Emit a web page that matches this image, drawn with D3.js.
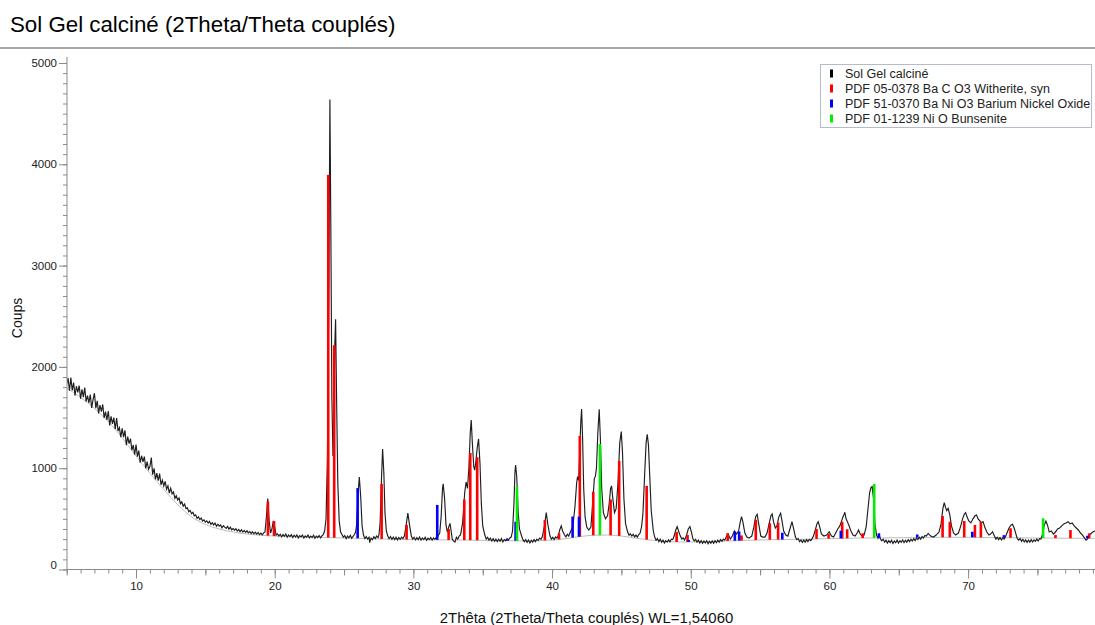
<!DOCTYPE html>
<html><head><meta charset="utf-8">
<script src="https://cdn.jsdelivr.net/npm/d3@7"></script>
<style>
html,body{margin:0;padding:0;background:#fff;}
svg{display:block;font-family:"Liberation Sans",Arial,sans-serif;}
</style></head>
<body><svg id="chart" width="1095" height="625"></svg>
<script>
const title = "Sol Gel calciné (2Theta/Theta couplés)";
const xTitle = "2Thêta (2Theta/Theta couplés) WL=1,54060";
const yTitle = "Coups";
const xTickLabels = [10, 20, 30, 40, 50, 60, 70];
const yTickLabels = [0, 1000, 2000, 3000, 4000, 5000];
const seriesNames = ["Sol Gel calciné", "PDF 05-0378 Ba C O3 Witherite, syn", "PDF 51-0370 Ba Ni O3 Barium Nickel Oxide", "PDF 01-1239 Ni O Bunsenite"];
const seriesColors = ["#000000", "#ff0000", "#0000ff", "#00ee00"];

// measured scan: [2theta, counts]
const scan = [
[5.0,1830],[5.1,1891],[5.2,1765],[5.3,1894],[5.4,1768],[5.5,1846],[5.6,1717],[5.7,1809],[5.8,1748],[5.9,1815],
[6.0,1685],[6.1,1779],[6.2,1701],[6.3,1795],[6.4,1658],[6.5,1717],[6.6,1645],[6.7,1727],[6.8,1596],[6.9,1678],
[7.0,1740],[7.1,1593],[7.2,1665],[7.3,1541],[7.4,1622],[7.5,1558],[7.6,1629],[7.7,1496],[7.8,1559],[7.9,1476],
[8.0,1565],[8.1,1423],[8.2,1511],[8.3,1437],[8.4,1500],[8.5,1384],[8.6,1495],[8.7,1367],[8.8,1401],[8.9,1307],
[9.0,1393],[9.1,1306],[9.2,1374],[9.3,1228],[9.4,1312],[9.5,1243],[9.6,1292],[9.7,1179],[9.8,1229],[9.9,1133],
[10.0,1233],[10.1,1114],[10.2,1174],[10.3,1054],[10.4,1123],[10.5,1063],[10.6,1115],[10.7,997],[10.8,1066],[10.9,990],
[11.0,1017],[11.1,1105],[11.2,936],[11.3,998],[11.4,889],[11.5,951],[11.6,876],[11.7,946],[11.8,837],[11.9,882],
[12.0,824],[12.1,870],[12.2,792],[12.3,826],[12.4,755],[12.5,803],[12.6,746],[12.7,766],[12.8,702],[12.9,729],
[13.0,686],[13.1,706],[13.2,649],[13.3,669],[13.4,626],[13.5,646],[13.6,602],[13.7,609],[13.8,571],[13.9,583],
[14.0,550],[14.1,565],[14.2,530],[14.3,540],[14.4,505],[14.5,520],[14.6,493],[14.7,508],[14.8,479],[14.9,490],
[15.0,467],[15.1,480],[15.2,458],[15.3,476],[15.4,445],[15.5,462],[15.6,440],[15.7,458],[15.8,426],[15.9,447],
[16.0,428],[16.1,440],[16.2,412],[16.3,432],[16.4,418],[16.5,406],[16.6,425],[16.7,398],[16.8,418],[16.9,392],
[17.0,405],[17.1,388],[17.2,402],[17.3,380],[17.4,396],[17.5,374],[17.6,392],[17.7,370],[17.8,386],[17.9,366],
[18.0,382],[18.1,362],[18.2,375],[18.3,356],[18.4,373],[18.5,352],[18.6,368],[18.7,350],[18.8,366],[18.9,345],
[19.0,360],[19.1,342],[19.2,362],[19.3,370],[19.4,520],[19.5,700],[19.6,480],[19.7,360],[19.8,400],[19.9,480],
[20.0,420],[20.1,340],[20.2,352],[20.3,330],[20.4,348],[20.5,322],[20.6,345],[20.7,328],[20.8,350],[20.9,318],
[21.0,340],[21.1,325],[21.2,345],[21.3,315],[21.4,338],[21.5,320],[21.6,342],[21.7,312],[21.8,335],[21.9,322],
[22.0,340],[22.1,310],[22.2,332],[22.3,318],[22.4,340],[22.5,312],[22.6,330],[22.7,315],[22.8,338],[22.9,308],
[23.0,330],[23.1,316],[23.2,335],[23.3,312],[23.4,332],[23.5,345],[23.6,380],[23.7,500],[23.8,1100],[23.9,2700],
[23.98,4640],[24.05,3300],[24.12,1700],[24.2,1120],[24.27,1600],[24.33,2200],[24.39,2470],[24.46,1700],[24.55,850],[24.65,480],
[24.75,370],[24.85,345],[24.95,318],[25.05,335],[25.15,305],[25.25,330],[25.35,312],[25.45,338],[25.55,308],[25.65,328],
[25.75,345],[25.82,365],[25.9,430],[26.0,720],[26.1,913],[26.2,720],[26.3,430],[26.4,340],[26.5,305],[26.6,325],
[26.7,300],[26.8,318],[26.85,265],[26.95,310],[27.05,295],[27.15,325],[27.25,305],[27.35,330],[27.45,315],[27.52,345],
[27.6,460],[27.7,900],[27.78,1190],[27.87,950],[27.95,560],[28.05,380],[28.15,330],[28.25,305],[28.35,325],[28.45,298],
[28.55,320],[28.65,295],[28.75,318],[28.85,290],[28.95,315],[29.05,298],[29.15,320],[29.25,305],[29.35,330],[29.48,440],
[29.6,558],[29.72,440],[29.85,330],[29.95,300],[30.05,318],[30.15,292],[30.25,315],[30.35,295],[30.45,320],[30.55,290],
[30.65,312],[30.75,296],[30.85,318],[30.95,288],[31.05,310],[31.15,295],[31.25,315],[31.35,290],[31.45,312],[31.55,298],
[31.65,318],[31.75,325],[31.9,360],[32.0,520],[32.1,800],[32.15,845],[32.25,700],[32.35,440],[32.45,370],[32.55,420],
[32.64,455],[32.72,380],[32.8,300],[32.9,280],[33.0,270],[33.1,318],[33.2,300],[33.3,330],[33.4,342],[33.55,460],
[33.7,760],[33.8,864],[33.9,800],[34.0,1000],[34.1,1350],[34.17,1476],[34.25,1250],[34.35,1020],[34.42,980],[34.5,1060],
[34.6,1200],[34.7,1289],[34.8,1050],[34.9,650],[35.0,430],[35.15,340],[35.25,300],[35.35,318],[35.45,290],[35.55,310],
[35.65,282],[35.75,305],[35.85,278],[35.95,300],[36.05,275],[36.15,298],[36.25,280],[36.35,305],[36.45,272],[36.55,296],
[36.65,285],[36.75,305],[36.85,290],[36.95,312],[37.05,320],[37.15,380],[37.25,650],[37.32,950],[37.37,1032],[37.45,920],
[37.55,580],[37.65,400],[37.8,330],[37.9,295],[38.0,275],[38.1,295],[38.2,268],[38.3,292],[38.4,262],[38.5,288],
[38.6,270],[38.7,295],[38.8,275],[38.9,300],[39.0,285],[39.1,310],[39.2,298],[39.3,325],[39.45,430],[39.58,561],
[39.7,440],[39.85,330],[39.95,300],[40.05,318],[40.15,295],[40.25,322],[40.35,310],[40.45,335],[40.55,390],[40.66,430],
[40.76,380],[40.9,340],[41.0,322],[41.1,348],[41.2,330],[41.3,362],[41.5,430],[41.65,620],[41.77,850],[41.84,917],
[41.92,880],[42.0,1200],[42.07,1450],[42.13,1585],[42.2,1300],[42.28,800],[42.38,520],[42.5,420],[42.65,390],[42.8,420],
[42.95,700],[43.05,900],[43.12,917],[43.2,1000],[43.3,1350],[43.4,1582],[43.48,1300],[43.58,800],[43.7,560],[43.85,500],
[44.0,530],[44.12,650],[44.22,800],[44.29,825],[44.38,700],[44.5,560],[44.62,600],[44.75,850],[44.88,1250],[44.99,1361],
[45.08,1150],[45.18,700],[45.3,450],[45.45,370],[45.55,338],[45.65,352],[45.75,330],[45.85,348],[45.95,322],[46.05,340],
[46.15,320],[46.25,345],[46.35,360],[46.45,420],[46.55,550],[46.68,950],[46.78,1250],[46.86,1335],[46.95,1230],[47.05,900],
[47.15,580],[47.3,380],[47.4,320],[47.5,290],[47.6,305],[47.7,275],[47.8,298],[47.9,268],[48.0,290],[48.1,262],
[48.2,285],[48.3,270],[48.4,292],[48.5,272],[48.6,300],[48.7,295],[48.8,330],[48.92,390],[49.02,423],[49.12,380],
[49.25,330],[49.35,300],[49.45,312],[49.55,290],[49.65,320],[49.72,350],[49.82,400],[49.94,423],[50.05,370],[50.15,305],
[50.25,282],[50.35,298],[50.45,270],[50.55,290],[50.65,262],[50.75,285],[50.85,258],[50.95,280],[51.05,262],[51.15,285],
[51.25,255],[51.35,278],[51.45,260],[51.55,282],[51.65,258],[51.75,285],[51.85,265],[51.95,290],[52.05,270],[52.15,295],
[52.25,278],[52.35,300],[52.45,290],[52.55,320],[52.7,350],[52.85,300],[53.0,330],[53.15,380],[53.3,350],[53.45,380],
[53.57,470],[53.66,521],[53.76,470],[53.9,360],[54.05,320],[54.2,310],[54.4,330],[54.55,420],[54.68,520],[54.79,545],
[54.9,450],[55.05,330],[55.2,320],[55.35,320],[55.5,360],[55.65,450],[55.78,530],[55.87,548],[55.97,470],[56.1,410],
[56.22,430],[56.35,520],[56.48,555],[56.58,480],[56.7,380],[56.85,340],[57.0,330],[57.15,400],[57.3,472],[57.42,400],
[57.55,320],[57.65,295],[57.75,305],[57.85,275],[57.95,292],[58.05,268],[58.15,290],[58.25,270],[58.35,295],[58.45,275],
[58.55,298],[58.65,285],[58.75,305],[58.85,330],[59.0,400],[59.1,450],[59.19,472],[59.3,420],[59.42,350],[59.6,330],
[59.8,340],[59.98,373],[60.15,330],[60.3,320],[60.45,360],[60.6,400],[60.75,430],[60.88,480],[60.98,520],[61.05,540],
[61.11,565],[61.2,500],[61.3,470],[61.42,430],[61.55,380],[61.7,340],[61.85,330],[62.0,360],[62.1,390],[62.22,350],
[62.35,330],[62.5,340],[62.65,420],[62.78,600],[62.9,760],[63.0,810],[63.08,818],[63.18,700],[63.28,450],[63.4,340],
[63.5,310],[63.58,345],[63.68,300],[63.78,285],[63.88,298],[63.98,270],[64.08,290],[64.18,262],[64.28,285],[64.38,265],
[64.48,288],[64.58,258],[64.68,282],[64.78,265],[64.88,290],[64.98,262],[65.08,285],[65.18,268],[65.28,292],[65.38,265],
[65.48,288],[65.58,270],[65.68,295],[65.78,275],[65.88,298],[65.98,282],[66.08,305],[66.18,285],[66.28,310],[66.38,295],
[66.48,318],[66.58,300],[66.68,325],[66.78,310],[66.88,335],[66.98,330],[67.12,357],[67.3,330],[67.5,320],[67.7,340],
[67.9,370],[68.05,450],[68.18,600],[68.28,660],[68.38,610],[68.46,580],[68.56,604],[68.68,540],[68.8,430],[68.95,360],
[69.1,340],[69.3,360],[69.45,420],[69.6,500],[69.72,545],[69.82,561],[69.92,520],[70.05,480],[70.2,460],[70.35,500],
[70.5,530],[70.61,538],[70.72,500],[70.85,480],[70.95,460],[71.08,472],[71.2,420],[71.35,370],[71.5,340],[71.62,350],
[71.76,373],[71.9,330],[72.0,300],[72.1,318],[72.2,295],[72.3,315],[72.4,292],[72.5,312],[72.6,300],[72.7,325],
[72.8,360],[72.95,410],[73.1,440],[73.2,446],[73.32,410],[73.45,350],[73.55,305],[73.65,290],[73.75,305],[73.85,278],
[73.95,298],[74.05,272],[74.15,292],[74.25,268],[74.35,290],[74.45,270],[74.55,295],[74.65,272],[74.75,292],[74.85,278],
[74.95,300],[75.05,282],[75.15,305],[75.25,300],[75.35,340],[75.5,440],[75.61,479],[75.72,440],[75.85,370],[76.0,380],
[76.15,350],[76.3,370],[76.45,400],[76.6,410],[76.75,430],[76.9,450],[77.05,460],[77.21,472],[77.35,450],[77.5,460],
[77.65,430],[77.8,410],[77.95,390],[78.1,360],[78.25,340],[78.4,310],[78.5,290],[78.6,300],[78.75,340],[78.9,360],
[79.05,375],[79.2,380]
];

// fitted background: [2theta, counts]
const background = [
[5,1790],[6,1700],[7,1590],[8,1460],[9,1300],[10,1120],[11,950],[12,790],[13,640],[14,520],[15,445],[16,400],
[17,370],[18,350],[19,338],[20,330],[22,320],[24,315],[26,308],[28,300],[30,295],[32,292],[34,290],[36,285],
[38,282],[40,290],[41,305],[42,325],[43,338],[44,340],[45,330],[46,310],[47,292],[48,280],[49,272],[50,272],
[52,278],[54,288],[56,295],[58,298],[60,305],[62,310],[64,312],[66,315],[68,318],[70,318],[72,315],[74,312],
[76,310],[78,308],[79.2,308]
];

// reference sticks: [2theta, intensity above background (counts)]
const witherite = [
[19.51,335],[19.95,148],[23.86,3580],[24.29,1900],[27.71,544],[29.51,144],[32.54,108],[33.67,400],[34.10,860],
[34.60,820],[39.48,200],[40.50,60],[42.00,993],[42.97,430],[44.22,354],[44.84,740],[46.82,530],[48.98,100],
[49.77,68],[52.66,77],[53.66,50],[54.69,200],[55.70,163],[56.30,167],[59.07,98],[59.94,45],[60.92,164],
[61.28,89],[62.40,47],[68.16,210],[68.68,154],[69.72,161],[70.49,122],[70.92,155],[73.06,94],[76.30,30],
[77.38,81],[78.73,49]
];
const bariumNickelOxide = [
[25.98,496],[31.72,345],[36.77,15],[37.37,189],[41.48,208],[41.94,198],[49.85,20],[53.18,90],[53.49,90],
[56.60,67],[60.82,76],[63.57,45],[66.33,30],[70.30,55],[72.58,25],[78.60,25]
];
const bunsenite = [
[37.47,535],[43.45,900],[63.23,532],[75.41,195]
];

const svg = d3.select("#chart");
const x = d3.scaleLinear().domain([5, 79.15]).range([66.7, 1095]);
const y = d3.scaleLinear().domain([0, 5000]).range([569.5, 63]);

// title
svg.append("text").attr("x", 10).attr("y", 32).attr("font-size", 22.3).attr("fill", "#000").text(title);
svg.append("line").attr("x1", 0).attr("x2", 1095).attr("y1", 48).attr("y2", 48)
  .attr("stroke", "#8a8a8a").attr("stroke-width", 1.5);

// clip
svg.append("clipPath").attr("id", "plotclip").append("rect")
  .attr("x", 67).attr("y", 50).attr("width", 1095 - 67).attr("height", 520);
const plot = svg.append("g").attr("clip-path", "url(#plotclip)");

// background curve
const bisect = d3.bisector(d => d[0]).left;
function bgAt(t) {
  const i = Math.max(1, Math.min(background.length - 1, bisect(background, t)));
  const a = background[i - 1], b = background[i];
  return a[1] + (b[1] - a[1]) * (t - a[0]) / (b[0] - a[0]);
}
plot.append("path").datum(background)
  .attr("d", d3.line().x(d => x(d[0])).y(d => y(d[1])).curve(d3.curveMonotoneX))
  .attr("fill", "none").attr("stroke", "#bdbdbd").attr("stroke-width", 1);

// scan
plot.append("path").datum(scan)
  .attr("d", d3.line().x(d => x(d[0])).y(d => y(d[1])))
  .attr("fill", "none").attr("stroke", "#1e1e1e").attr("stroke-width", 1.15);

// sticks
[[witherite, seriesColors[1]], [bariumNickelOxide, seriesColors[2]], [bunsenite, seriesColors[3]]].forEach(([data, col]) => {
  plot.append("g").selectAll("rect").data(data).join("rect")
    .attr("x", d => x(d[0]) - 1.3)
    .attr("width", 2.6)
    .attr("y", d => y(bgAt(d[0]) + d[1]))
    .attr("height", d => y(bgAt(d[0])) - y(bgAt(d[0]) + d[1]))
    .attr("fill", col);
});

// y axis
const axisColor = "#8a8a8a";
const yMinor = d3.range(0, 5001, 100);
const gyMinor = svg.append("g").attr("transform", "translate(67,0)")
  .call(d3.axisLeft(y).tickValues(yMinor).tickSize(4).tickFormat(""));
const gy = svg.append("g").attr("transform", "translate(67,0)")
  .call(d3.axisLeft(y).tickValues(yTickLabels).tickSize(8).tickPadding(2).tickFormat(d3.format("d")));
[gyMinor, gy].forEach(g => { g.selectAll("line").attr("stroke", axisColor); g.select(".domain").remove(); });
gy.selectAll("text").attr("font-size", 11.5).attr("fill", "#222").attr("font-family", "Liberation Sans, Arial, sans-serif")
  .attr("dy", d => d === 0 ? "-0.1em" : "0.32em");
svg.append("line").attr("x1", 67).attr("x2", 67).attr("y1", 57).attr("y2", 569.5).attr("stroke", axisColor).attr("stroke-width", 1);

// x axis
const xMinor = d3.range(5, 80, 1);
const xMid = d3.range(5, 80, 5).filter(v => v % 10 !== 0);
const gxMinor = svg.append("g").attr("transform", "translate(0,569.5)")
  .call(d3.axisBottom(x).tickValues(xMinor).tickSize(4).tickFormat(""));
const gxMid = svg.append("g").attr("transform", "translate(0,569.5)")
  .call(d3.axisBottom(x).tickValues(xMid).tickSize(6).tickFormat(""));
const gx = svg.append("g").attr("transform", "translate(0,569.5)")
  .call(d3.axisBottom(x).tickValues(xTickLabels).tickSize(9).tickPadding(3).tickFormat(d3.format("d")));
[gxMinor, gxMid, gx].forEach(g => { g.selectAll("line").attr("stroke", axisColor); g.select(".domain").remove(); });
gx.selectAll("text").attr("font-size", 11.5).attr("fill", "#222").attr("font-family", "Liberation Sans, Arial, sans-serif");
svg.append("line").attr("x1", 67).attr("x2", 1095).attr("y1", 569.5).attr("y2", 569.5).attr("stroke", axisColor).attr("stroke-width", 1);

// axis titles
svg.append("text").attr("x", 586.5).attr("y", 623).attr("text-anchor", "middle")
  .attr("font-size", 14.9).attr("fill", "#111").text(xTitle);
svg.append("text").attr("transform", "translate(22,318) rotate(-90)").attr("text-anchor", "middle")
  .attr("font-size", 14).attr("fill", "#111").text(yTitle);

// legend
const lg = svg.append("g");
lg.append("rect").attr("x", 820.5).attr("y", 64.5).attr("width", 271).attr("height", 63)
  .attr("fill", "#fff").attr("stroke", "#b4bccb").attr("stroke-width", 1);
seriesNames.forEach((name, i) => {
  const by = 77.5 + i * 15;
  lg.append("rect").attr("x", 830).attr("y", by - 8).attr("width", 3).attr("height", 8).attr("fill", seriesColors[i]);
  lg.append("text").attr("x", 845).attr("y", by).attr("font-size", 12.5).attr("fill", "#222").text(name);
});
</script>
</body></html>
